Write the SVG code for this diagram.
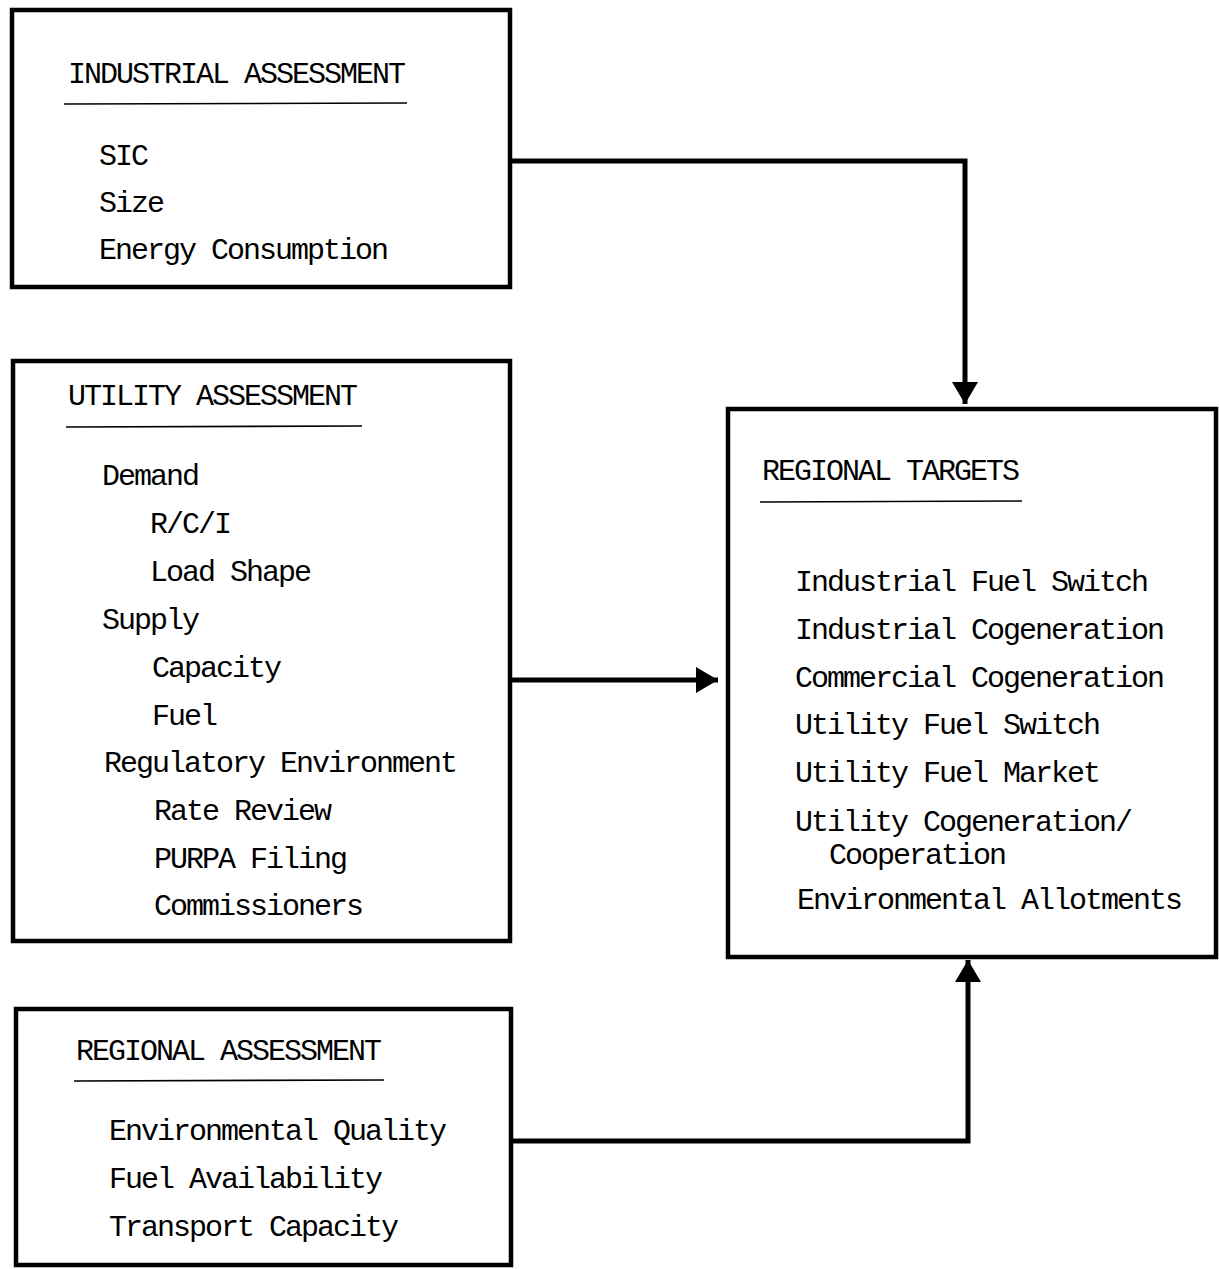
<svg xmlns="http://www.w3.org/2000/svg" width="1219" height="1269" viewBox="0 0 1219 1269">
<style>
  .box{fill:#fff;stroke:#000;stroke-width:4.5}
  .ul{stroke:#000;stroke-width:1.6}
  text{font-family:"Liberation Mono","DejaVu Sans Mono",monospace;font-size:30px;letter-spacing:-2px;fill:#000}
  .conn{fill:none;stroke:#000;stroke-width:5;stroke-linejoin:miter}
</style>
<defs>
  <marker id="ah" markerUnits="userSpaceOnUse" markerWidth="24" markerHeight="26" refX="22" refY="13" orient="auto">
    <path d="M0,0 L22,13 L0,26 Z" fill="#000"/>
  </marker>
</defs>
<rect width="1219" height="1269" fill="#fff"/>
<g id="industrial-assessment">
  <rect class="box" x="12" y="10" width="498" height="277"/>
  <text x="68" y="83">INDUSTRIAL ASSESSMENT</text>
  <line class="ul" x1="64" y1="104" x2="407" y2="103"/>
  <text x="99" y="165">SIC</text>
  <text x="99" y="212">Size</text>
  <text x="99" y="259">Energy Consumption</text>
</g>
<g id="utility-assessment">
  <rect class="box" x="13" y="361" width="497" height="580"/>
  <text x="68" y="405">UTILITY ASSESSMENT</text>
  <line class="ul" x1="66" y1="427" x2="362" y2="426"/>
  <text x="102" y="485">Demand</text>
  <text x="150" y="533">R/C/I</text>
  <text x="150" y="581">Load Shape</text>
  <text x="102" y="629">Supply</text>
  <text x="152" y="677">Capacity</text>
  <text x="152" y="725">Fuel</text>
  <text x="104" y="772">Regulatory Environment</text>
  <text x="154" y="820">Rate Review</text>
  <text x="154" y="868">PURPA Filing</text>
  <text x="154" y="915">Commissioners</text>
</g>
<g id="regional-assessment">
  <rect class="box" x="16" y="1009" width="495" height="256"/>
  <text x="76" y="1060">REGIONAL ASSESSMENT</text>
  <line class="ul" x1="74" y1="1081" x2="384" y2="1080"/>
  <text x="109" y="1140">Environmental Quality</text>
  <text x="109" y="1188">Fuel Availability</text>
  <text x="109" y="1236">Transport Capacity</text>
</g>
<g id="regional-targets">
  <rect class="box" x="728" y="409" width="488" height="548"/>
  <text x="762" y="480">REGIONAL TARGETS</text>
  <line class="ul" x1="760" y1="502" x2="1022" y2="501"/>
  <text x="795" y="591">Industrial Fuel Switch</text>
  <text x="795" y="639">Industrial Cogeneration</text>
  <text x="795" y="687">Commercial Cogeneration</text>
  <text x="795" y="734">Utility Fuel Switch</text>
  <text x="795" y="782">Utility Fuel Market</text>
  <text x="795" y="831">Utility Cogeneration/</text>
  <text x="829" y="864">Cooperation</text>
  <text x="797" y="909">Environmental Allotments</text>
</g>
<g id="connectors">
  <path class="conn" d="M512,161 H965 V404" marker-end="url(#ah)"/>
  <path class="conn" d="M511,680 H718" marker-end="url(#ah)"/>
  <path class="conn" d="M513,1141 H968 V960" marker-end="url(#ah)"/>
</g>
</svg>
